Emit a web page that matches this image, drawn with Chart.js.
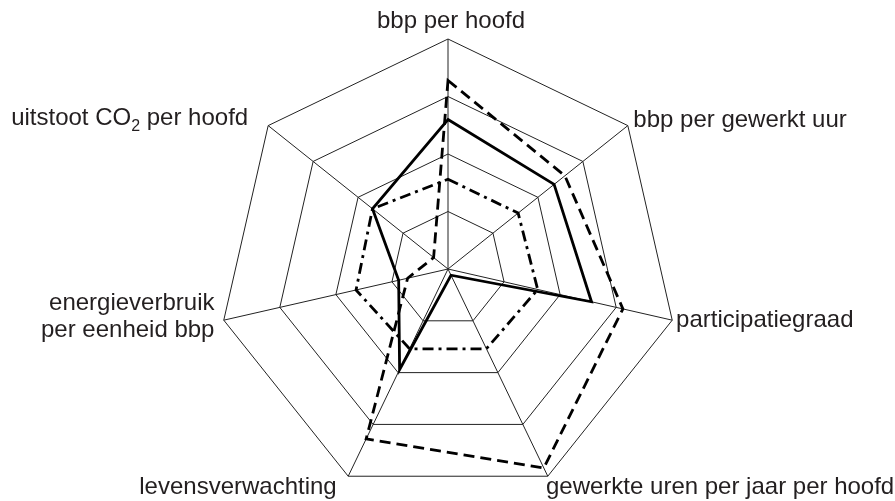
<!DOCTYPE html>
<html><head><meta charset="utf-8">
<script src="https://cdn.jsdelivr.net/npm/chart.js@4"></script>
<style>html,body{margin:0;padding:0;background:#fff}</style>
</head><body>
<canvas id="c" width="895" height="501"></canvas>
<script>
// ---- data ----
const categories = [
  'bbp per hoofd',
  'bbp per gewerkt uur',
  'participatiegraad',
  'gewerkte uren per jaar per hoofd',
  'levensverwachting',
  ['energieverbruik', 'per eenheid bbp'],
  'uitstoot CO₂ per hoofd'
];
const solidValues   = [65, 59, 64, 3, 48.5, 22, 42];
const dashedValues  = [82, 65, 78, 96, 82, 18, 8];
const dashDotValues = [39, 39, 40, 38.5, 38.5, 41, 42];
const ringTicks = [0, 25, 50, 75, 100];

// ---- label placement relative to each axis end ----
const labelPlacement = [
  {dx: 3,    dy: -11,  align: 'center'},
  {dx: 5.5,  dy: 1,    align: 'left'},
  {dx: 3.8,  dy: 6.5,  align: 'left'},
  {dx: -1.8, dy: 17.5, align: 'left'},
  {dx: -11.5,dy: 17.5, align: 'right'},
  {dx: -9.3, dy: -10,  align: 'right'},
  {dx: -20,  dy: -0.6, align: 'right'}
];
const FONT_MAIN = '24px "Liberation Sans", Arial, Helvetica, sans-serif';
const FONT_SUB  = '16px "Liberation Sans", Arial, Helvetica, sans-serif';
const LINE_H = 27;

function drawRich(ctx, text, x, y, align) {
  const parts = text.split('₂');
  const segs = [];
  parts.forEach((p, i) => {
    if (p) segs.push({t: p, sub: false});
    if (i < parts.length - 1) segs.push({t: '2', sub: true});
  });
  let total = 0;
  segs.forEach(s => { ctx.font = s.sub ? FONT_SUB : FONT_MAIN; s.w = ctx.measureText(s.t).width; total += s.w; });
  let sx = align === 'left' ? x : align === 'right' ? x - total : x - total / 2;
  ctx.textAlign = 'left';
  segs.forEach(s => {
    ctx.font = s.sub ? FONT_SUB : FONT_MAIN;
    ctx.fillText(s.t, sx, s.sub ? y + 6 : y);
    sx += s.w;
  });
}

const axisLabelPlugin = {
  id: 'axisLabels',
  afterDraw(chart) {
    const s = chart.scales.r;
    const ctx = chart.ctx;
    ctx.save();
    ctx.fillStyle = '#231f20';
    ctx.textBaseline = 'alphabetic';
    categories.forEach((lab, i) => {
      const p = s.getPointPosition(i, s.drawingArea);
      const pl = labelPlacement[i];
      const lines = Array.isArray(lab) ? lab : [lab];
      lines.forEach((ln, j) => drawRich(ctx, ln, p.x + pl.dx, p.y + pl.dy + j * LINE_H, pl.align));
    });
    ctx.restore();
  }
};

new Chart(document.getElementById('c'), {
  type: 'radar',
  data: {
    labels: categories,
    datasets: [
      {label: 'A', data: solidValues, borderColor: '#000', borderWidth: 2.8, fill: false, pointRadius: 0, borderJoinStyle: 'miter'},
      {label: 'B', data: dashedValues, borderColor: '#000', borderWidth: 2.8, borderDash: [11, 6], fill: false, pointRadius: 0, borderJoinStyle: 'miter'},
      {label: 'C', data: dashDotValues, borderColor: '#000', borderWidth: 2.8, borderDash: [11, 5, 3, 5], fill: false, pointRadius: 0, borderJoinStyle: 'miter'}
    ]
  },
  options: {
    responsive: false,
    devicePixelRatio: 1,
    animation: false,
    layout: {padding: {left: 218, right: 217, top: 39, bottom: 2}},
    plugins: {legend: {display: false}, tooltip: {enabled: false}},
    scales: {
      r: {
        min: ringTicks[0],
        max: ringTicks[ringTicks.length - 1],
        afterBuildTicks(scale) { scale.ticks = ringTicks.map(v => ({value: v})); },
        ticks: {display: false},
        grid: {color: '#222', lineWidth: 1},
        angleLines: {color: '#222', lineWidth: 1},
        pointLabels: {display: false}
      }
    }
  },
  plugins: [axisLabelPlugin]
});
</script>
</body></html>
